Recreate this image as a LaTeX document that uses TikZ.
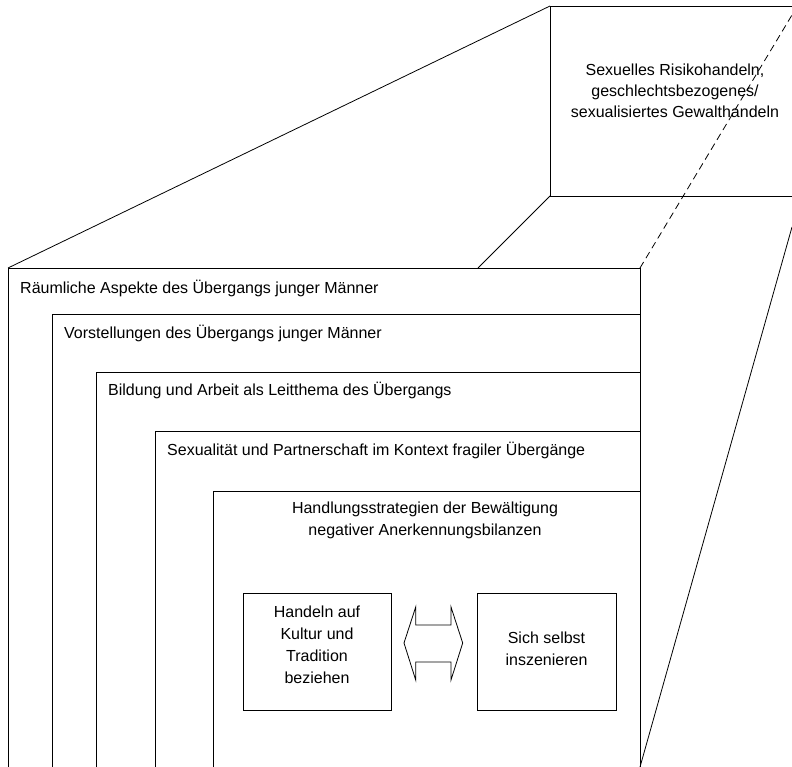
\documentclass[tikz,border=0pt]{standalone}
\usepackage{fontspec}
\setmainfont{Liberation Sans}
\newcommand{\mlines}[1]{\begin{tabular}[t]{@{}c@{}}#1\end{tabular}}
\begin{document}
\begin{tikzpicture}[x=1pt,y=-1pt,
  ln/.style={draw=black,line width=0.8pt},
  dashln/.style={ln,dash pattern=on 7pt off 4.5pt},
  lbl/.style={inner sep=0pt,anchor=base west,font=\fontsize{16}{22}\selectfont},
  clbl/.style={inner sep=0pt,anchor=base,font=\fontsize{16}{22}\selectfont},
  ibox/.style={ln,fill=white,inner sep=0pt}]
\useasboundingbox (0,0) rectangle (792,767);
% back panel
\coordinate (bTL) at (550,6);
\coordinate (bBL) at (550,196);
\coordinate (bTR) at (792,6);
\coordinate (bBR) at (792,196);
\draw[ln] (bTR) -- (bTL) -- (bBL) -- (bBR);
\node[clbl,font=\fontsize{16}{21}\selectfont] (back) at (675,76) {\mlines{Sexuelles Risikohandeln,\\geschlechtsbezogenes/\\sexualisiertes Gewalthandeln}};
% perspective lines
\coordinate (fTL) at (8,268);
\coordinate (fIn) at (478,268);
\coordinate (fTR) at (640,268);
\coordinate (fBR) at (640,767);
\coordinate (dEnd) at (792,15);
\coordinate (sEnd) at (792,227);
\draw[ln] (fTL) -- (bTL);
\draw[ln] (fIn) -- (bBL);
\draw[dashln] (fTR) -- (dEnd);
\draw[ln] (fBR) -- (sEnd);
% nested frames (open at the bottom)
\draw[ln] (8,767) -- (fTL) -- (fTR) -- (fBR);
\draw[ln] (52,767) -- (52,314) -- (640,314);
\draw[ln] (96,767) -- (96,372) -- (640,372);
\draw[ln] (155,767) -- (155,431) -- (640,431);
\draw[ln] (213,767) -- (213,491) -- (640,491);
\node[lbl] (t1) at (20,293) {Räumliche Aspekte des Übergangs junger Männer};
\node[lbl] (t2) at (64,338) {Vorstellungen des Übergangs junger Männer};
\node[lbl] (t3) at (108,395) {Bildung und Arbeit als Leitthema des Übergangs};
\node[lbl] (t4) at (167,455) {Sexualität und Partnerschaft im Kontext fragiler Übergänge};
\node[clbl] (t5) at (425,513) {\mlines{Handlungsstrategien der Bewältigung\\negativer Anerkennungsbilanzen}};
% inner boxes
\draw[ln] (243,593) rectangle (391,710);
\draw[ln] (477,593) rectangle (616,710);
\node[clbl] (kultur) at (317,617) {\mlines{Handeln auf\\Kultur und\\Tradition\\beziehen}};
\node[clbl] (selbst) at (546.5,643) {\mlines{Sich selbst\\inszenieren}};
% double arrow
\draw[ln,line join=miter] (404,643) -- (415.7,607) -- (415.7,625) -- (451,625) -- (451,607) -- (462.7,643)
  -- (451,680) -- (451,662) -- (415.7,662) -- (415.7,680) -- cycle;
\end{tikzpicture}
\end{document}
